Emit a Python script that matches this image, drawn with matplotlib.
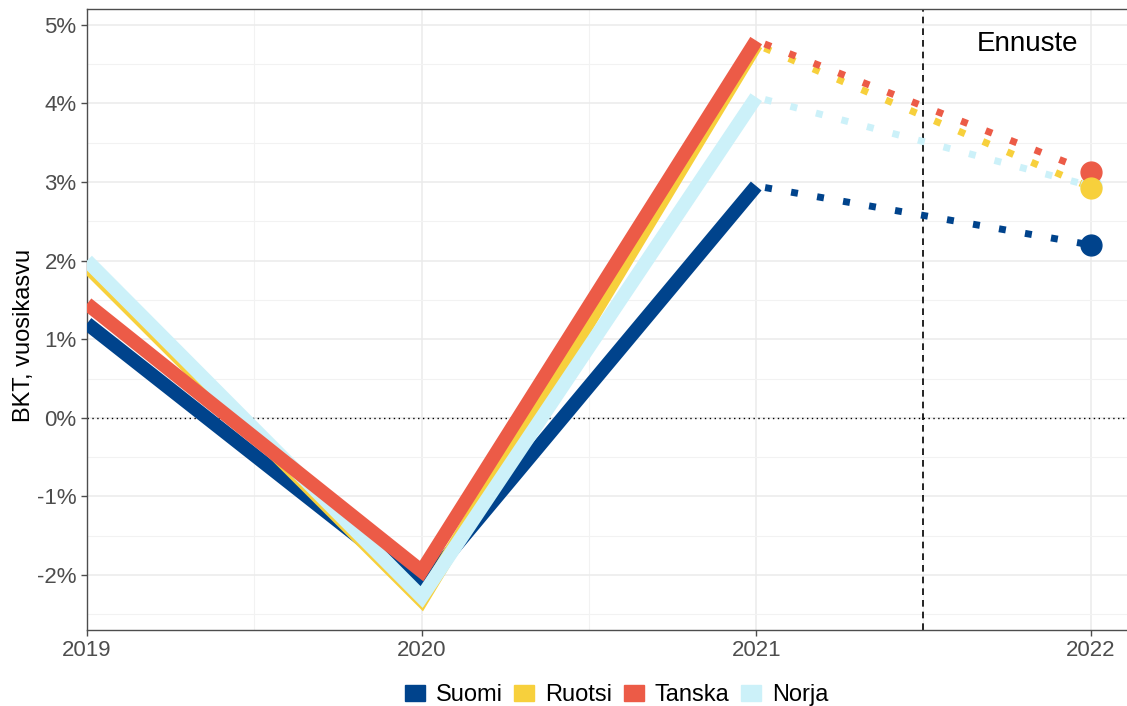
import matplotlib.pyplot as plt
from matplotlib.patches import Patch
from matplotlib.ticker import MultipleLocator, FuncFormatter

plt.rcParams['font.family'] = ['Liberation Sans', 'DejaVu Sans']

# BKT-kasvu (%), toteutuneet 2019-2021 ja ennuste 2022
years = [2019, 2020, 2021]
forecast_years = [2021, 2022]
maat = ['Suomi', 'Ruotsi', 'Tanska', 'Norja']
suomi = [1.2, -2.15, 2.95]
ruotsi = [1.93, -2.32, 4.75]
tanska = [1.45, -1.95, 4.8]
norja = [2.0, -2.28, 4.08]
suomi_2022 = 2.2
ruotsi_2022 = 2.93
tanska_2022 = 3.13
norja_2022 = 2.95
colors = {'Suomi': '#00438C', 'Ruotsi': '#F7D03C', 'Tanska': '#EC5B47', 'Norja': '#CCF1F9'}

data = {'Suomi': (suomi, suomi_2022), 'Ruotsi': (ruotsi, ruotsi_2022),
        'Tanska': (tanska, tanska_2022), 'Norja': (norja, norja_2022)}

fig = plt.figure(figsize=(11.27, 7.06), dpi=100)
ax = fig.add_axes([0.0772, 0.1076, 0.9263, 0.8794])

# line draw order: Suomi, Ruotsi, Norja, Tanska
line_z = {'Suomi': 3, 'Ruotsi': 4, 'Norja': 5, 'Tanska': 6}
dot_z = {'Norja': 7, 'Tanska': 8, 'Ruotsi': 9, 'Suomi': 10}
for maa in maat:
    vals, fc = data[maa]
    ax.plot(years, vals, color=colors[maa], lw=10, solid_capstyle='butt',
            solid_joinstyle='miter', zorder=line_z[maa])
    ax.plot(forecast_years, [vals[-1], fc], color=colors[maa], lw=5,
            linestyle=(2.5, (1, 2.8)), dash_capstyle='butt', zorder=line_z[maa])
    ax.plot([2022], [fc], 'o', color=colors[maa], ms=15, zorder=dot_z[maa])

ax.axhline(0, color='black', lw=1, linestyle=(0, (1, 2.5)), zorder=2)
ax.axvline(2021.5, color='black', lw=1.2, linestyle=(0, (4, 3)), zorder=2)
ax.text(2021.81, 4.76, 'Ennuste', fontsize=20, ha='center', va='center')

ax.set_xlim(2019, 2022.12)
ax.set_ylim(-2.7, 5.2)
ax.xaxis.set_major_locator(MultipleLocator(1))
ax.xaxis.set_minor_locator(MultipleLocator(0.5))
ax.yaxis.set_major_locator(MultipleLocator(1))
ax.yaxis.set_minor_locator(MultipleLocator(0.5))
ax.xaxis.set_major_formatter(FuncFormatter(lambda v, p: '%d' % v))
ax.yaxis.set_major_formatter(FuncFormatter(lambda v, p: '%d%%' % v))
ax.grid(which='major', color='#EBEBEB', lw=1.1)
ax.grid(which='minor', color='#F2F2F2', lw=0.8)
ax.set_axisbelow(True)
ax.tick_params(which='major', labelsize=16, labelcolor='#4D4D4D', color='#4D4D4D', length=4, width=1)
ax.tick_params(which='minor', length=0)
for s in ax.spines.values():
    s.set_color('#4D4D4D')
    s.set_linewidth(1)

ax.set_ylabel('BKT, vuosikasvu', fontsize=17)
ax.yaxis.set_label_coords(-0.05, 0.475)

handles = [Patch(color=colors[m], label=m) for m in maat]
fig.legend(handles=handles, loc='center', bbox_to_anchor=(0.547, 0.015), ncol=4,
           frameon=False, fontsize=17, handlelength=0.85, handleheight=0.7,
           handletextpad=0.45, columnspacing=0.5)

plt.savefig('out.png', dpi=100)
